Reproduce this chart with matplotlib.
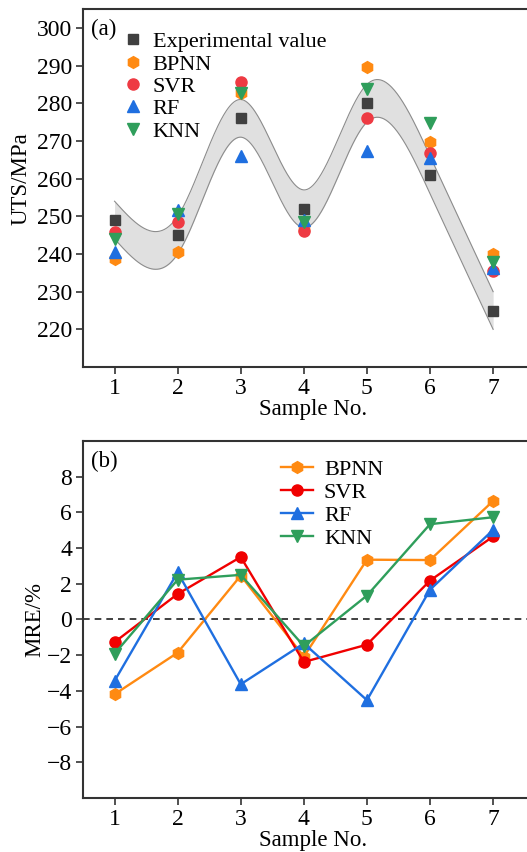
import numpy as np
import matplotlib
matplotlib.use('Agg')
import matplotlib.pyplot as plt

plt.rcParams['font.family'] = ['Liberation Serif', 'DejaVu Serif']
plt.rcParams['font.size'] = 16
plt.rcParams['mathtext.fontset'] = 'stix'

samples = [1, 2, 3, 4, 5, 6, 7]

# UTS values (MPa)
uts_exp = [249.0, 245.0, 276.0, 252.0, 280.0, 261.0, 225.0]
uts_bpnn = [238.6, 240.4, 282.7, 246.8, 289.5, 269.8, 240.1]
uts_svr = [245.9, 248.5, 285.6, 246.0, 276.1, 266.8, 235.5]
uts_rf = [240.5, 251.8, 266.0, 248.9, 267.4, 265.4, 236.3]
uts_knn = [244.1, 250.7, 282.7, 248.4, 283.8, 274.8, 237.9]
band_halfwidth = 5.0

# relative errors (%)
mre_bpnn = [-4.19, -1.86, 2.46, -2.08, 3.35, 3.33, 6.64]
mre_svr = [-1.27, 1.43, 3.50, -2.38, -1.41, 2.18, 4.65]
mre_rf = [-3.44, 2.64, -3.63, -1.34, -4.52, 1.67, 5.02]
mre_knn = [-1.92, 2.23, 2.50, -1.49, 1.34, 5.34, 5.73]

c_exp = '#404040'
c_bpnn = '#FF8A12'
c_svr = '#EE3A43'
c_svr_line = '#F00000'
c_rf = '#1F6FE0'
c_knn = '#2F9E5B'
c_axis = '#333333'


def natural_spline(x, y, xs):
    """natural cubic spline through (x, y), evaluated at xs"""
    x = np.asarray(x, float)
    y = np.asarray(y, float)
    n = len(x)
    h = np.diff(x)
    A = np.zeros((n, n))
    b = np.zeros(n)
    A[0, 0] = 1
    A[-1, -1] = 1
    for i in range(1, n - 1):
        A[i, i - 1] = h[i - 1]
        A[i, i] = 2 * (h[i - 1] + h[i])
        A[i, i + 1] = h[i]
        b[i] = 6 * ((y[i + 1] - y[i]) / h[i] - (y[i] - y[i - 1]) / h[i - 1])
    M = np.linalg.solve(A, b)
    idx = np.clip(np.searchsorted(x, xs) - 1, 0, n - 2)
    x0, x1 = x[idx], x[idx + 1]
    hh = x1 - x0
    t0 = x1 - xs
    t1 = xs - x0
    return (M[idx] * t0**3 / (6 * hh) + M[idx + 1] * t1**3 / (6 * hh)
            + (y[idx] / hh - M[idx] * hh / 6) * t0
            + (y[idx + 1] / hh - M[idx + 1] * hh / 6) * t1)


def style_axes(ax):
    for side in ['left', 'bottom', 'top', 'right']:
        ax.spines[side].set_color(c_axis)
        ax.spines[side].set_linewidth(1.5)
    ax.tick_params(direction='out', length=5, width=1.2, color=c_axis,
                   labelsize=17, top=False, right=False, pad=3)
    ax.set_xticks(samples)
    ax.set_xlim(0.5, 7.8)


fig = plt.figure(figsize=(5.27, 8.52), dpi=100)
ax1 = fig.add_axes([0.1575, 0.5692, 0.874, 0.4202])
ax2 = fig.add_axes([0.1575, 0.0634, 0.874, 0.4190])

# (a) predicted UTS
xs = np.linspace(1, 7, 400)
centre = natural_spline(samples, uts_exp, xs)
ax1.fill_between(xs, centre - band_halfwidth, centre + band_halfwidth,
                 color='#E0E0E0', lw=0, zorder=1)
ax1.plot(xs, centre + band_halfwidth, color='#8C8C8C', lw=0.8, zorder=2)
ax1.plot(xs, centre - band_halfwidth, color='#8C8C8C', lw=0.8, zorder=2)

ms = 7.5
ax1.plot(samples, uts_exp, 's', color=c_exp, ms=ms - 0.5, label='Experimental value', zorder=3)
ax1.plot(samples, uts_bpnn, 'h', color=c_bpnn, ms=ms + 1, label='BPNN', zorder=3)
ax1.plot(samples, uts_svr, 'o', color=c_svr, ms=ms + 0.5, label='SVR', zorder=3)
ax1.plot(samples, uts_rf, '^', color=c_rf, ms=ms + 0.5, label='RF', zorder=3)
ax1.plot(samples, uts_knn, 'v', color=c_knn, ms=ms + 0.5, label='KNN', zorder=3)

style_axes(ax1)
ax1.set_ylim(210, 305)
ax1.set_yticks(np.arange(220, 301, 10))
ax1.set_xlabel('Sample No.', fontsize=16.5, labelpad=0)
ax1.set_ylabel('UTS/MPa', fontsize=16.5)
ax1.yaxis.set_label_coords(-0.112, 0.525)
ax1.text(0.018, 0.972, '(a)', transform=ax1.transAxes, fontsize=16.5, va='top')
ax1.legend(loc='upper left', bbox_to_anchor=(0.06, 0.974), frameon=False,
           handlelength=0.8, handletextpad=0.5, labelspacing=0.08,
           fontsize=16, borderaxespad=0.2)

# (b) relative error
ax2.axhline(0, color='#202020', ls=(0, (4, 3)), lw=1.2, zorder=1)
lw = 1.7
ax2.plot(samples, mre_bpnn, '-h', color=c_bpnn, lw=lw, ms=ms + 1, label='BPNN', zorder=3)
ax2.plot(samples, mre_svr, '-o', color=c_svr_line, lw=lw, ms=ms + 0.5, label='SVR', zorder=3)
ax2.plot(samples, mre_rf, '-^', color=c_rf, lw=lw, ms=ms + 0.5, label='RF', zorder=3)
ax2.plot(samples, mre_knn, '-v', color=c_knn, lw=lw, ms=ms + 0.5, label='KNN', zorder=3)

style_axes(ax2)
ax2.set_ylim(-10, 10)
ax2.set_yticks(np.arange(-8, 9, 2))
ax2.set_xlabel('Sample No.', fontsize=16.5, labelpad=0)
ax2.set_ylabel('MRE/%', fontsize=16.5)
ax2.yaxis.set_label_coords(-0.082, 0.5)
ax2.text(0.018, 0.972, '(b)', transform=ax2.transAxes, fontsize=16.5, va='top')
ax2.legend(loc='upper left', bbox_to_anchor=(0.40, 0.985), frameon=False,
           handlelength=1.45, handletextpad=0.5, labelspacing=0.1,
           fontsize=16, borderaxespad=0.2)

fig.savefig('out.png', dpi=100)
